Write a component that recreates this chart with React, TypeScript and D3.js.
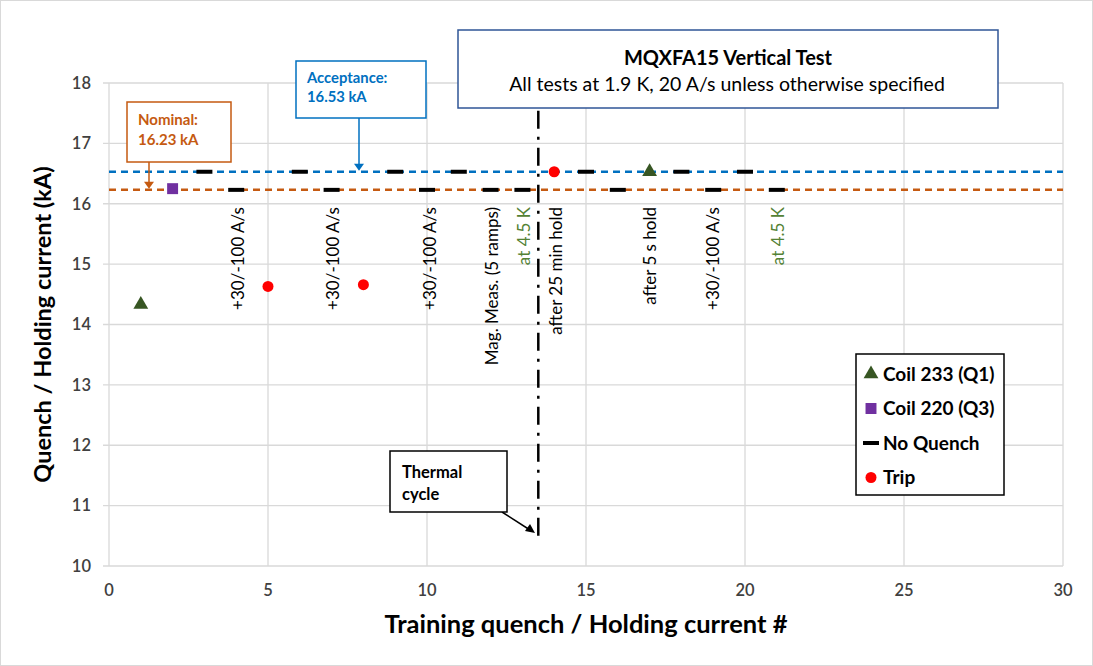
import React from "react";
import * as d3 from "d3";

const coil233 = [
  { x: 1, y: 14.33 },
  { x: 17, y: 16.53 },
];
const coil220 = [{ x: 2, y: 16.25 }];
const trips = [
  { x: 5, y: 14.63 },
  { x: 8, y: 14.66 },
  { x: 14, y: 16.53 },
];
const noQuench = [
  { x: 3, y: 16.53 },
  { x: 4, y: 16.23 },
  { x: 6, y: 16.53 },
  { x: 7, y: 16.23 },
  { x: 9, y: 16.53 },
  { x: 10, y: 16.23 },
  { x: 11, y: 16.53 },
  { x: 12, y: 16.23 },
  { x: 13, y: 16.23 },
  { x: 15, y: 16.53 },
  { x: 16, y: 16.23 },
  { x: 18, y: 16.53 },
  { x: 19, y: 16.23 },
  { x: 20, y: 16.53 },
  { x: 21, y: 16.23 },
];
const acceptance = 16.53;
const nominal = 16.23;
const thermalCycleX = 13.5;
const xTicks = [0, 5, 10, 15, 20, 25, 30];
const yTicks = [10, 11, 12, 13, 14, 15, 16, 17, 18];
const rotLabels = [
  { x: 4.05, text: "+30/-100 A/s", color: "#000" },
  { x: 7.05, text: "+30/-100 A/s", color: "#000" },
  { x: 10.1, text: "+30/-100 A/s", color: "#000" },
  { x: 12.05, text: "Mag. Meas. (5 ramps)", color: "#000" },
  { x: 13.05, text: "at 4.5 K", color: "#548235" },
  { x: 14.05, text: "after 25 min hold", color: "#000" },
  { x: 17, text: "after 5 s hold", color: "#000" },
  { x: 19, text: "+30/-100 A/s", color: "#000" },
  { x: 21.05, text: "at 4.5 K", color: "#548235" },
];
const legendItems = ["Coil 233 (Q1)", "Coil 220 (Q3)", "No Quench", "Trip"];

const FONT = "Lato, 'Open Sans', sans-serif";

export default function App() {
  const x = d3.scaleLinear().domain([0, 30]).range([109, 1063]);
  const y = d3.scaleLinear().domain([10, 18]).range([566, 83]);
  const tri = d3.symbol().type(d3.symbolTriangle).size(95)();
  const sq = d3.symbol().type(d3.symbolSquare).size(120)();

  const labelTop = 207;

  return (
    <svg
      width={1093}
      height={666}
      style={{ position: "absolute", left: 0, top: 0, fontFamily: FONT }}
    >
      <rect x={0.5} y={0.5} width={1092} height={665} fill="#fff" stroke="#D9D9D9" />
      {/* grid */}
      {xTicks.map((t) => (
        <line key={"gx" + t} x1={x(t)} x2={x(t)} y1={y(18)} y2={y(10)} stroke="#D9D9D9" strokeWidth={1.3} />
      ))}
      {yTicks.map((t) => (
        <line key={"gy" + t} x1={x(0) - 6} x2={x(30)} y1={y(t)} y2={y(t)} stroke="#D9D9D9" strokeWidth={1.3} />
      ))}
      {/* tick labels */}
      {yTicks.map((t) => (
        <text key={"ty" + t} x={91} y={y(t)} dy="0.35em" textAnchor="end" fontSize={16.5} fontWeight={600} fill="#404040">
          {t}
        </text>
      ))}
      {xTicks.map((t) => (
        <text key={"tx" + t} x={x(t)} y={590} dy="0.35em" textAnchor="middle" fontSize={16.5} fontWeight={600} fill="#404040">
          {t}
        </text>
      ))}
      {/* axis titles */}
      <text x={586} y={624} dy="0.35em" textAnchor="middle" fontSize={25.5} fontWeight={700} fill="#000">
        Training quench / Holding current #
      </text>
      <text
        transform={`translate(43,${(y(18) + y(10)) / 2}) rotate(-90)`}
        dy="0.35em"
        textAnchor="middle"
        fontSize={23.5}
        fontWeight={700}
        fill="#000"
      >
        Quench / Holding current (kA)
      </text>

      {/* reference lines */}
      <line x1={x(0)} x2={x(30)} y1={y(acceptance)} y2={y(acceptance)} stroke="#0070C0" strokeWidth={2.5} strokeDasharray="7,5" />
      <line x1={x(0)} x2={x(30)} y1={y(nominal)} y2={y(nominal)} stroke="#C55A11" strokeWidth={2.5} strokeDasharray="7,5" />

      {/* thermal cycle line */}
      <line
        x1={x(thermalCycleX)}
        x2={x(thermalCycleX)}
        y1={y(10.5)}
        y2={60}
        stroke="#000"
        strokeWidth={2.5}
        strokeDasharray="18,8,3,8"
      />

      {/* rotated labels */}
      {rotLabels.map((l, i) => (
        <text
          key={"rl" + i}
          transform={`translate(${x(l.x)},${labelTop}) rotate(-90)`}
          textAnchor="end"
          dy="0.35em"
          fontSize={17}
          fill={l.color}
        >
          {l.text}
        </text>
      ))}

      {/* no quench dashes */}
      {noQuench.map((d, i) => (
        <line key={"nq" + i} x1={x(d.x) - 8} x2={x(d.x) + 8} y1={y(d.y)} y2={y(d.y)} stroke="#000" strokeWidth={4} />
      ))}
      {/* coil 233 */}
      {coil233.map((d, i) => (
        <path key={"c233" + i} d={tri as string} transform={`translate(${x(d.x)},${y(d.y)})`} fill="#375623" />
      ))}
      {coil220.map((d, i) => (
        <path key={"c220" + i} d={sq as string} transform={`translate(${x(d.x)},${y(d.y)})`} fill="#7030A0" />
      ))}
      {trips.map((d, i) => (
        <circle key={"tr" + i} cx={x(d.x)} cy={y(d.y)} r={5.5} fill="#FF0000" />
      ))}

      {/* Title box */}
      <rect x={458} y={30} width={540} height={78} fill="#fff" stroke="#2F5597" strokeWidth={1.5} />
      <text x={728} y={58} dy="0.35em" textAnchor="middle" fontSize={20} fontWeight={700} fill="#000">
        MQXFA15 Vertical Test
      </text>
      <text x={727} y={84} dy="0.35em" textAnchor="middle" fontSize={19.5} fill="#000">
        All tests at 1.9 K, 20 A/s unless otherwise specified
      </text>

      {/* Acceptance */}
      <line x1={359} x2={359} y1={118} y2={y(acceptance) - 6} stroke="#0070C0" strokeWidth={1.5} />
      <path d={`M354,${y(acceptance) - 8} L364,${y(acceptance) - 8} L359,${y(acceptance) - 1} Z`} fill="#0070C0" />
      <rect x={296} y={61} width={130} height={57} fill="#fff" stroke="#0070C0" strokeWidth={1.5} />
      <text x={307} y={78} dy="0.35em" fontSize={14.8} fontWeight={700} fill="#0070C0">
        Acceptance:
      </text>
      <text x={307} y={97} dy="0.35em" fontSize={14.8} fontWeight={700} fill="#0070C0">
        16.53 kA
      </text>

      {/* Nominal */}
      <line x1={149} x2={149} y1={162} y2={y(nominal) - 6} stroke="#C55A11" strokeWidth={1.5} />
      <path d={`M144,${y(nominal) - 8} L154,${y(nominal) - 8} L149,${y(nominal) - 1} Z`} fill="#C55A11" />
      <rect x={127} y={102} width={104} height={60} fill="#fff" stroke="#C55A11" strokeWidth={1.5} />
      <text x={138} y={120} dy="0.35em" fontSize={15} fontWeight={700} fill="#C55A11">
        Nominal:
      </text>
      <text x={138} y={140} dy="0.35em" fontSize={15} fontWeight={700} fill="#C55A11">
        16.23 kA
      </text>

      {/* Thermal cycle */}
      <line x1={502} x2={530} y1={512} y2={530} stroke="#000" strokeWidth={1.5} />
      <path d="M535,533 L525,531 L530,524 Z" fill="#000" />
      <rect x={390} y={451} width={117} height={61} fill="#fff" stroke="#000" strokeWidth={1.5} />
      <text x={402} y={472} dy="0.35em" fontSize={16.5} fontWeight={700} fill="#000">
        Thermal
      </text>
      <text x={402} y={494} dy="0.35em" fontSize={16.5} fontWeight={700} fill="#000">
        cycle
      </text>

      {/* Legend */}
      <rect x={856} y={354} width={148} height={141} fill="#fff" stroke="#000" strokeWidth={1.5} />
      {legendItems.map((t, i) => {
        const ly = 374 + i * 34.5;
        return (
          <g key={"lg" + i}>
            {i === 0 && <path d={tri as string} transform={`translate(871,${ly})`} fill="#375623" />}
            {i === 1 && <path d={sq as string} transform={`translate(871,${ly})`} fill="#7030A0" />}
            {i === 2 && <line x1={863} x2={879} y1={ly} y2={ly} stroke="#000" strokeWidth={4} />}
            {i === 3 && <circle cx={871} cy={ly} r={5.5} fill="#FF0000" />}
            <text x={883} y={ly} dy="0.35em" fontSize={19} fontWeight={700} fill="#000">
              {t}
            </text>
          </g>
        );
      })}
    </svg>
  );
}
